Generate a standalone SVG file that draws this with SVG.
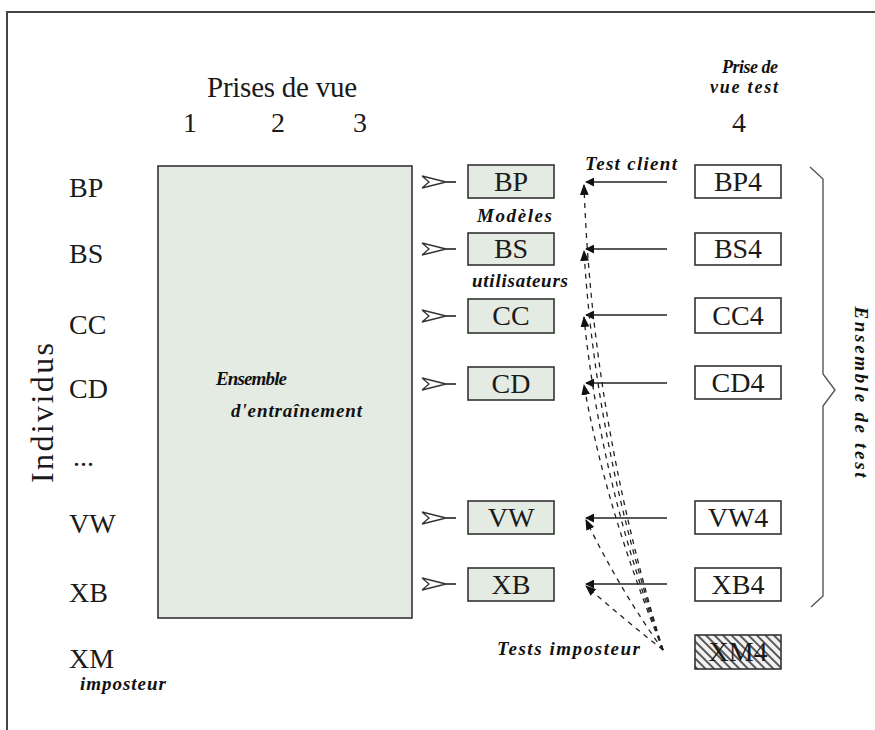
<svg xmlns="http://www.w3.org/2000/svg" width="875" height="730" viewBox="0 0 875 730">
<defs>
<style>
.lbl{font-family:"Liberation Serif","Times New Roman",serif;font-size:28px;fill:#1a1a1a}
.it{font-family:"Liberation Serif","Times New Roman",serif;font-size:19px;font-style:italic;font-weight:bold;fill:#111}
.box{fill:#e3ebe3;stroke:#333;stroke-width:1.6}
.tbox{fill:#fff;stroke:#333;stroke-width:1.6}
.solid{stroke:#222;stroke-width:1.6;fill:none}
.dash{stroke:#222;stroke-width:1.3;fill:none;stroke-dasharray:5,5}
.hollow{fill:#fff;stroke:#333;stroke-width:1.3}
.brace{fill:none;stroke:#555;stroke-width:1.4}
</style>
<marker id="ah" viewBox="0 0 10 10" refX="9" refY="5" markerWidth="9" markerHeight="9" markerUnits="userSpaceOnUse" orient="auto">
<path d="M0,0 L10,5 L0,10 Z" fill="#111"/>
</marker>
<marker id="ahd" viewBox="0 0 10 10" refX="9" refY="5" markerWidth="11" markerHeight="11" markerUnits="userSpaceOnUse" orient="auto">
<path d="M0,1 L10,5 L0,9 Z" fill="#111"/>
</marker>
<pattern id="hatch" patternUnits="userSpaceOnUse" width="6" height="6" patternTransform="rotate(-45)">
<rect width="6" height="6" fill="#f2f2f2"/>
<line x1="2" y1="0" x2="2" y2="6" stroke="#333" stroke-width="1.6"/>
</pattern>
</defs>

<rect x="0" y="0" width="875" height="730" fill="#fff"/>
<rect x="7" y="12" width="880" height="730" fill="none" stroke="#444" stroke-width="2"/>

<g id="header">
<text class="lbl" x="282" y="97" text-anchor="middle" style="font-size:29px" textLength="150">Prises de vue</text>
<text class="lbl" x="190" y="132" text-anchor="middle">1</text>
<text class="lbl" x="278" y="132" text-anchor="middle">2</text>
<text class="lbl" x="360" y="132" text-anchor="middle">3</text>
<text class="it" x="750" y="73" text-anchor="middle" style="font-size:18px" textLength="56">Prise de</text>
<text class="it" x="744" y="93" text-anchor="middle" style="font-size:18px" textLength="68">vue test</text>
<text class="lbl" x="739" y="132" text-anchor="middle">4</text>
</g>

<g id="individus">
<text class="lbl" transform="translate(53,413) rotate(-90)" text-anchor="middle" style="font-size:32px" textLength="140">Individus</text>
<text class="lbl" x="69" y="197">BP</text>
<text class="lbl" x="69" y="263">BS</text>
<text class="lbl" x="69" y="334">CC</text>
<text class="lbl" x="69" y="398">CD</text>
<text class="lbl" x="73" y="466">...</text>
<text class="lbl" x="69" y="533">VW</text>
<text class="lbl" x="69" y="602">XB</text>
<text class="lbl" x="69" y="668">XM</text>
<text class="it" x="80" y="690" textLength="86">imposteur</text>
</g>

<g id="training">
<rect class="box" x="158" y="166" width="254" height="452"/>
<text class="it" x="216" y="385" textLength="71">Ensemble</text>
<text class="it" x="231" y="417" textLength="131">d'entraînement</text>
</g>

<g id="hollow-arrows">
<path class="hollow" d="M422,176 L446,182 L422,188 L429,182 Z"/><line class="solid" x1="446" y1="182" x2="456" y2="182"/>
<path class="hollow" d="M422,243 L446,249 L422,255 L429,249 Z"/><line class="solid" x1="446" y1="249" x2="456" y2="249"/>
<path class="hollow" d="M422,310 L446,316 L422,322 L429,316 Z"/><line class="solid" x1="446" y1="316" x2="456" y2="316"/>
<path class="hollow" d="M422,378 L446,384 L422,390 L429,384 Z"/><line class="solid" x1="446" y1="384" x2="456" y2="384"/>
<path class="hollow" d="M422,512 L446,518 L422,524 L429,518 Z"/><line class="solid" x1="446" y1="518" x2="456" y2="518"/>
<path class="hollow" d="M422,578 L446,584 L422,590 L429,584 Z"/><line class="solid" x1="446" y1="584" x2="456" y2="584"/>
</g>

<g id="model-BP"><rect class="box" x="468" y="165" width="86" height="33"/><text class="lbl" x="511" y="191" text-anchor="middle">BP</text></g>
<g id="model-BS"><rect class="box" x="468" y="233" width="86" height="32"/><text class="lbl" x="511" y="258" text-anchor="middle">BS</text></g>
<g id="model-CC"><rect class="box" x="468" y="299" width="86" height="34"/><text class="lbl" x="511" y="325" text-anchor="middle">CC</text></g>
<g id="model-CD"><rect class="box" x="468" y="367" width="86" height="33"/><text class="lbl" x="511" y="393" text-anchor="middle">CD</text></g>
<g id="model-VW"><rect class="box" x="468" y="501" width="86" height="33"/><text class="lbl" x="511" y="527" text-anchor="middle">VW</text></g>
<g id="model-XB"><rect class="box" x="468" y="568" width="86" height="33"/><text class="lbl" x="511" y="594" text-anchor="middle">XB</text></g>

<g id="labels-models">
<text class="it" x="477" y="222" textLength="75">Modèles</text>
<text class="it" x="472" y="287" textLength="96">utilisateurs</text>
<text class="it" x="585" y="170" textLength="92">Test client</text>
<text class="it" x="497" y="655" textLength="143">Tests imposteur</text>
</g>

<g id="test-BP4"><rect class="tbox" x="695" y="165" width="86" height="33"/><text class="lbl" x="738" y="191" text-anchor="middle">BP4</text></g>
<g id="test-BS4"><rect class="tbox" x="695" y="233" width="86" height="32"/><text class="lbl" x="738" y="258" text-anchor="middle">BS4</text></g>
<g id="test-CC4"><rect class="tbox" x="695" y="298" width="86" height="35"/><text class="lbl" x="738" y="325" text-anchor="middle">CC4</text></g>
<g id="test-CD4"><rect class="tbox" x="695" y="366" width="86" height="33"/><text class="lbl" x="738" y="392" text-anchor="middle">CD4</text></g>
<g id="test-VW4"><rect class="tbox" x="695" y="501" width="86" height="33"/><text class="lbl" x="738" y="527" text-anchor="middle">VW4</text></g>
<g id="test-XB4"><rect class="tbox" x="695" y="568" width="86" height="33"/><text class="lbl" x="738" y="594" text-anchor="middle">XB4</text></g>
<g id="test-XM4"><rect x="695" y="635" width="86" height="34" fill="url(#hatch)" stroke="#333" stroke-width="1.6"/><text class="lbl" x="738" y="661" text-anchor="middle">XM4</text></g>

<g id="connectors">
<line class="solid" x1="667" y1="182" x2="586" y2="182" marker-end="url(#ah)"/>
<line class="solid" x1="667" y1="249" x2="586" y2="249" marker-end="url(#ah)"/>
<line class="solid" x1="667" y1="315" x2="586" y2="315" marker-end="url(#ah)"/>
<line class="solid" x1="667" y1="383" x2="586" y2="383" marker-end="url(#ah)"/>
<line class="solid" x1="667" y1="518" x2="586" y2="518" marker-end="url(#ah)"/>
<line class="solid" x1="667" y1="584" x2="586" y2="584" marker-end="url(#ah)"/>
<path class="dash" d="M663,650 Q592,420 584,185" marker-end="url(#ahd)"/>
<path class="dash" d="M663,650 Q596,450 584,251" marker-end="url(#ahd)"/>
<path class="dash" d="M663,650 Q600,480 584,317" marker-end="url(#ahd)"/>
<path class="dash" d="M663,650 Q606,510 584,385" marker-end="url(#ahd)"/>
<path class="dash" d="M663,650 Q620,590 586,520" marker-end="url(#ahd)"/>
<path class="dash" d="M663,650 Q625,620 586,586" marker-end="url(#ahd)"/>
</g>

<g id="test-set">
<path class="brace" d="M810,167 L823,179 L823,374 L835,390 L823,406 L823,596 L811,607"/>
<text class="it" transform="translate(855,392) rotate(90)" text-anchor="middle" textLength="171">Ensemble de test</text>
</g>
</svg>
